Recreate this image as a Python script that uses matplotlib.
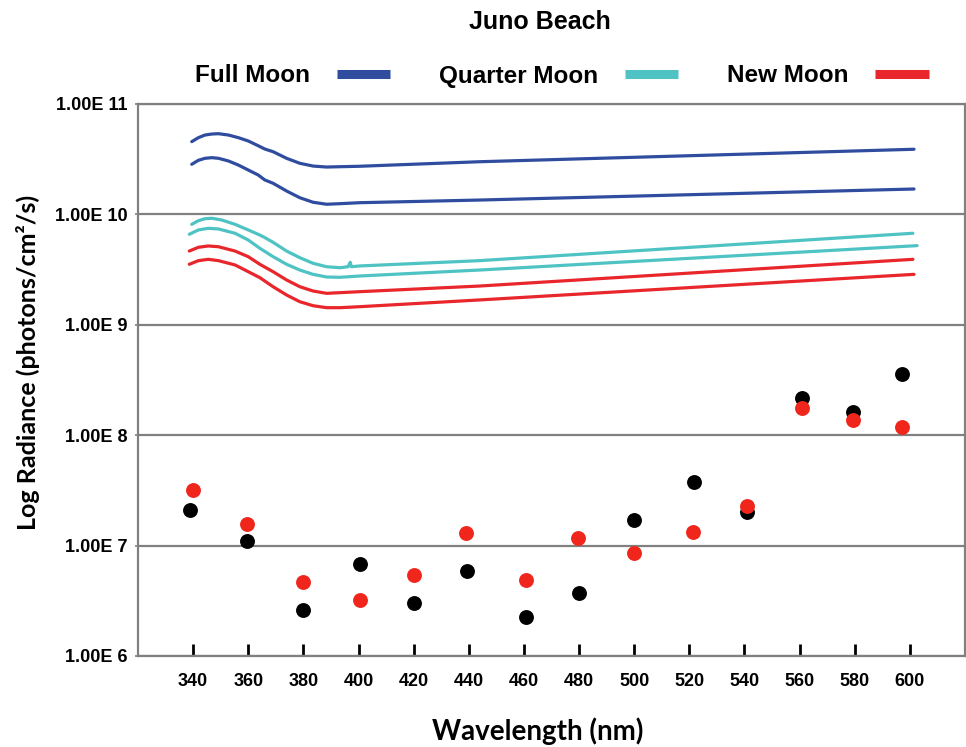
import numpy as np
import matplotlib
matplotlib.use("Agg")
import matplotlib.pyplot as plt
from matplotlib.lines import Line2D
from matplotlib.ticker import FixedLocator, FuncFormatter, NullLocator

# curves: wavelength (nm) and log10 radiance (photons/cm2/s)
full_hi_wl = [339.5, 341.9, 344.3, 346.8, 349.2, 352.8, 356.4, 360.0, 363.6, 366.0, 369.0, 373.9,
              378.7, 383.5, 388.4, 393.2, 400.4, 443.8, 601.5]
full_hi = [10.659, 10.695, 10.719, 10.728, 10.731, 10.719, 10.695, 10.665, 10.622, 10.592, 10.568,
           10.508, 10.463, 10.438, 10.429, 10.432, 10.436, 10.477, 10.590]

full_lo_wl = [339.5, 341.9, 344.3, 346.8, 349.2, 352.8, 356.4, 360.0, 363.6, 366.0, 369.0, 373.9,
              378.7, 383.5, 388.4, 393.2, 400.4, 443.8, 601.5]
full_lo = [10.454, 10.490, 10.508, 10.514, 10.508, 10.484, 10.447, 10.402, 10.357, 10.312, 10.282,
           10.212, 10.151, 10.110, 10.092, 10.097, 10.106, 10.130, 10.230]

quarter_hi_wl = [339.5, 341.9, 344.3, 346.8, 350.4, 355.2, 360.0, 364.2, 366.0, 369.0, 373.9, 378.7,
                 383.5, 388.4, 393.2, 396.2, 397.0, 397.4, 400.4, 443.8, 601.1]
quarter_hi = [9.910, 9.943, 9.961, 9.965, 9.949, 9.910, 9.859, 9.813, 9.790, 9.747, 9.668, 9.608,
              9.557, 9.526, 9.517, 9.526, 9.566, 9.526, 9.533, 9.581, 9.829]

quarter_lo_wl = [338.6, 341.9, 345.5, 349.2, 355.2, 360.0, 364.2, 369.0, 373.9, 378.7, 383.5, 388.4,
                 393.2, 400.4, 443.8, 602.6]
quarter_lo = [9.820, 9.859, 9.874, 9.868, 9.829, 9.768, 9.693, 9.617, 9.548, 9.496, 9.457, 9.433,
              9.430, 9.442, 9.496, 9.717]

new_hi_wl = [338.6, 341.9, 345.5, 349.2, 355.2, 360.0, 364.2, 369.0, 373.9, 378.7, 383.5, 388.4,
             393.2, 400.4, 443.8, 601.1]
new_hi = [9.668, 9.702, 9.714, 9.707, 9.668, 9.617, 9.548, 9.481, 9.406, 9.345, 9.306, 9.285,
          9.291, 9.300, 9.351, 9.593]

new_lo_wl = [338.6, 341.9, 345.5, 349.2, 355.2, 360.0, 364.2, 369.0, 373.9, 378.7, 383.5, 388.4,
             393.2, 400.4, 443.8, 601.5]
new_lo = [9.548, 9.581, 9.593, 9.581, 9.542, 9.481, 9.427, 9.345, 9.270, 9.209, 9.173, 9.155,
          9.155, 9.164, 9.225, 9.457]

# measured points (photons/cm2/s)
black_wl = [339, 359.6, 380, 400.4, 420, 439.5, 460.8, 480, 500, 521.6, 541, 561, 579.5, 597]
black_val = [2.1e7, 1.11e7, 2.6e6, 6.8e6, 3.04e6, 5.93e6, 2.27e6, 3.7e6, 1.71e7, 3.79e7, 2.03e7,
             2.16e8, 1.63e8, 3.56e8]
red_wl = [340, 359.6, 380, 400.4, 420, 439, 460.8, 479.5, 500, 521.4, 541, 561, 579.5, 597]
red_val = [3.19e7, 1.57e7, 4.7e6, 3.2e6, 5.46e6, 1.29e7, 4.88e6, 1.16e7, 8.6e6, 1.33e7, 2.29e7,
           1.77e8, 1.37e8, 1.18e8]

xticks = [340, 360, 380, 400, 420, 440, 460, 480, 500, 520, 540, 560, 580, 600]
yticks = [1e6, 1e7, 1e8, 1e9, 1e10, 1e11]
legend_labels = ["Full Moon", "Quarter Moon", "New Moon"]

BLUE = "#2f4c9f"
CYAN = "#4fc3c3"
RED = "#e8262b"
GRID = "#808080"

fig = plt.figure(figsize=(9.66, 7.47), dpi=100)
ax = fig.add_axes([138 / 966, 1 - 656 / 747, 827 / 966, 552 / 747])
ax.set_yscale("log")
ax.set_xlim(320, 620)
ax.set_ylim(1e6, 1e11)

lw = 2.3
curves = [(full_hi_wl, full_hi, BLUE), (full_lo_wl, full_lo, BLUE),
          (quarter_hi_wl, quarter_hi, CYAN), (quarter_lo_wl, quarter_lo, CYAN),
          (new_hi_wl, new_hi, RED), (new_lo_wl, new_lo, RED)]
for wl, logv, col in curves:
    ax.plot(wl, np.power(10.0, logv), color=col, lw=lw, solid_capstyle="round",
            solid_joinstyle="round")

ax.scatter(black_wl, black_val, s=115, color="black", zorder=3, linewidths=0)
ax.scatter(red_wl, red_val, s=115, color="#f0261c", zorder=4, linewidths=0)

# grid at decades
ax.yaxis.set_major_locator(FixedLocator(yticks))
ax.yaxis.set_minor_locator(NullLocator())
ax.yaxis.set_major_formatter(FuncFormatter(lambda v, p: "1.00E %d" % round(np.log10(v))))
ax.grid(axis="y", color=GRID, lw=1.6)
ax.set_axisbelow(True)

ax.set_xticks(xticks)
ax.tick_params(axis="x", direction="in", length=9, width=2, color="black", pad=12,
               labelsize=13)
ax.tick_params(axis="y", direction="out", length=2.5, width=1.2, color=GRID, pad=5,
               labelsize=13)
for lab in ax.get_xticklabels() + ax.get_yticklabels():
    lab.set_fontfamily("Liberation Sans")
    lab.set_fontweight("bold")

for s in ax.spines.values():
    s.set_color(GRID)
    s.set_linewidth(1.6)

ax.set_xlabel("Wavelength (nm)", fontsize=20, fontweight="bold", family="Lato", va="center")
ax.xaxis.set_label_coords((538 - 138) / 827, (656 - 731) / 552)
ax.set_ylabel("Log Radiance (photons/cm\u00b2/s)", fontsize=18, fontweight="bold",
              family="Lato", va="center")
ax.yaxis.set_label_coords((28 - 138) / 827, (656 - 362) / 552)

fig.text(540 / 966, 1 - 22 / 747, "Juno Beach", ha="center", va="center", fontsize=18,
         fontweight="bold", family="Liberation Sans")

handles = [Line2D([], [], color=c, lw=6.5, solid_capstyle="butt") for c in (BLUE, CYAN, RED)]
leg = fig.legend(handles, legend_labels, ncol=3, loc="center",
                 bbox_to_anchor=(562 / 966, 1 - 76 / 747), frameon=False, markerfirst=False,
                 handlelength=2.2, handletextpad=1.1, columnspacing=2.0,
                 prop={"family": "Liberation Sans", "weight": "bold", "size": 17.5})

fig.savefig("out.png", dpi=100)
